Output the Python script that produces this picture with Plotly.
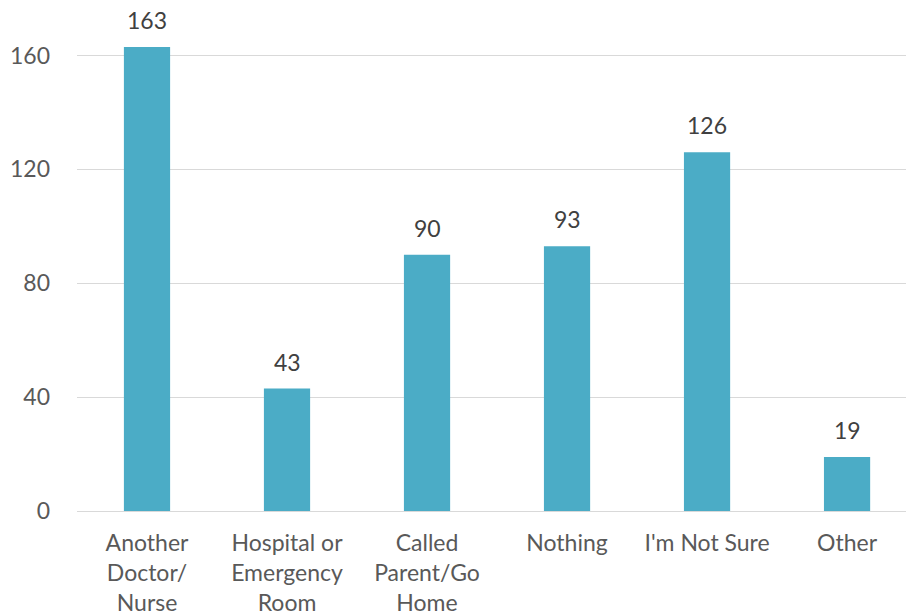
import plotly.graph_objects as go

categories = ["Another<br>Doctor/<br>Nurse", "Hospital or<br>Emergency<br>Room",
              "Called<br>Parent/Go<br>Home", "Nothing", "I'm Not Sure", "Other"]
values = [163, 43, 90, 93, 126, 19]
y_ticks = [0, 40, 80, 120, 160]

BAR = "#4BACC6"
FONT = "Lato"

fig = go.Figure()
fig.add_trace(go.Bar(x=list(range(len(categories))), y=values, marker_color=BAR,
                     marker_line_width=0, width=0.33, hoverinfo="skip"))

for i, v in enumerate(values):
    fig.add_annotation(x=i, y=v, text=str(v), showarrow=False, yanchor="middle",
                       yshift=27, font=dict(family=FONT, size=23, color="#404040"))

fig.update_layout(
    width=906, height=616,
    margin=dict(l=77, r=0, t=0, b=105),
    paper_bgcolor="white", plot_bgcolor="white",
    showlegend=False,
    font=dict(family=FONT, size=23, color="#595959"),
    xaxis=dict(range=[-0.5, 5.421], tickmode="array",
               tickvals=list(range(len(categories))), ticktext=categories,
               showgrid=False, zeroline=False, showline=False, ticks="",
               ticklabelstandoff=16,
               tickfont=dict(family=FONT, size=23, color="#595959")),
    yaxis=dict(range=[0, 179.5], tickmode="array", tickvals=y_ticks,
               showgrid=True, gridcolor="#D9D9D9", gridwidth=1.3,
               zeroline=True, zerolinecolor="#D9D9D9", zerolinewidth=1.3,
               showline=False, ticks="", ticklabelstandoff=26,
               tickfont=dict(family=FONT, size=23, color="#595959")),
)

fig.write_html("out.html")
